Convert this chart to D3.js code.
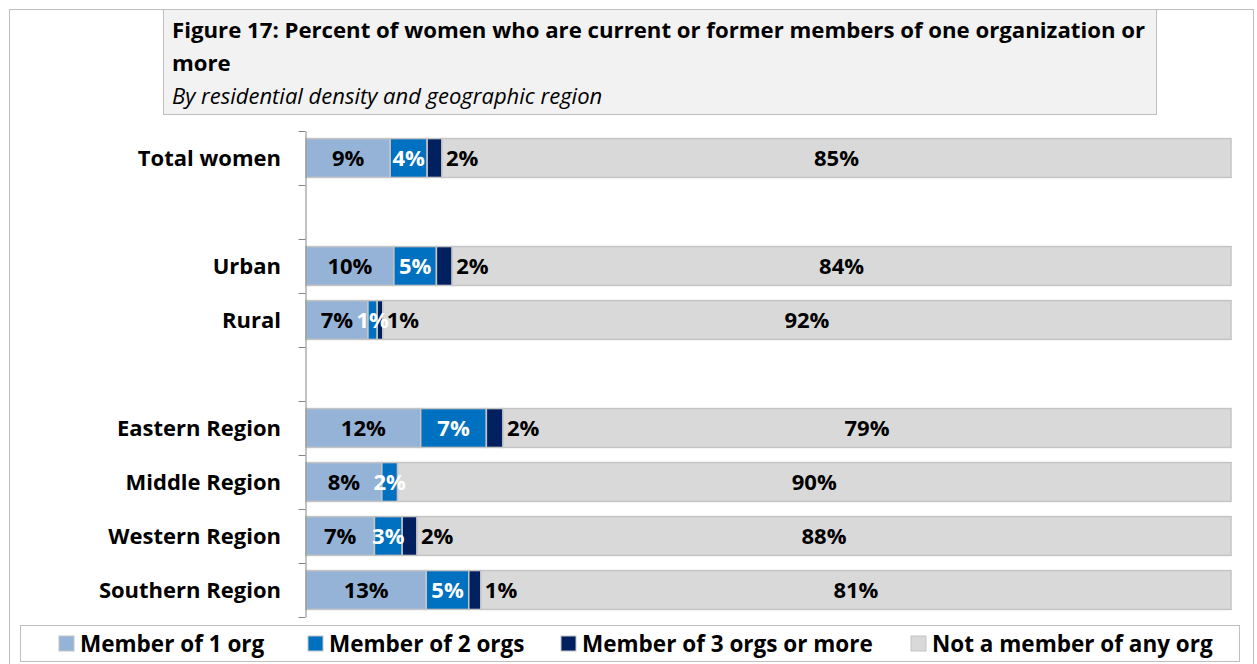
<!DOCTYPE html>
<html>
<head>
<meta charset="utf-8">
<script src="https://cdn.jsdelivr.net/npm/d3@7"></script>
<style>
  html, body { margin: 0; padding: 0; background: #fff; }
  svg { display: block; font-family: "Open Sans", "Noto Sans", sans-serif; }
  .cat-label { font-size: 22px; font-weight: 700; fill: #000; }
  .val-label { font-size: 22px; font-weight: 700; }
  .legend-label { font-size: 22.5px; font-weight: 700; fill: #000; }
  .title { font-size: 22.2px; font-weight: 700; fill: #000; }
  .subtitle { font-size: 22px; font-style: italic; fill: #000; }
</style>
</head>
<body>
<div id="chart"></div>
<script>
const categories = ['Total women', '', 'Urban', 'Rural', ' ', 'Eastern Region', 'Middle Region', 'Western Region', 'Southern Region'];
const seriesNames = ['Member of 1 org', 'Member of 2 orgs', 'Member of 3 orgs or more', 'Not a member of any org'];
const seriesColors = ['#95b3d7', '#0070c0', '#002060', '#d9d9d9'];

// percent values per category (blank rows are spacers)
const member1 = [9.1, null, 9.5, 6.7, null, 12.4, 8.2, 7.4, 13.0];
const member2 = [4.0, null, 4.6, 1.0, null, 7.1, 1.7, 3.0, 4.6];
const member3 = [1.6, null, 1.7, 0.6, null, 1.8, 0, 1.6, 1.3];
const notMember = [85.3, null, 84.2, 91.7, null, 78.7, 90.1, 88.0, 81.1];

const titleLines = ['Figure 17: Percent of women who are current or former members of one organization or', 'more'];
const subtitle = 'By residential density and geographic region';

const W = 1257, H = 664;

const svg = d3.select('#chart').append('svg')
  .attr('width', W)
  .attr('height', H);

// outer frame
svg.append('rect')
  .attr('x', 9.5).attr('y', 9.5)
  .attr('width', 1244).attr('height', 700)
  .attr('fill', '#fff')
  .attr('stroke', '#bfbfbf');

// title box
svg.append('rect')
  .attr('x', 163.5).attr('y', 9.5)
  .attr('width', 993).attr('height', 105)
  .attr('fill', '#f2f2f2')
  .attr('stroke', '#bfbfbf');

titleLines.forEach((t, i) => {
  svg.append('text')
    .attr('class', 'title')
    .attr('x', 172)
    .attr('y', 38 + i * 33)
    .text(t);
});
svg.append('text')
  .attr('class', 'subtitle')
  .attr('x', 172)
  .attr('y', 104)
  .text(subtitle);

const rows = categories.map((c, i) => ({
  cat: c,
  m1: member1[i], m2: member2[i], m3: member3[i], none: notMember[i],
}));
const keys = ['m1', 'm2', 'm3', 'none'];

const y = d3.scaleBand()
  .domain(categories)
  .range([131, 617])
  .paddingInner(0.28)
  .paddingOuter(0.14);

const x = d3.scaleLinear()
  .domain([0, 100])
  .range([306, 1231]);

const stack = d3.stack().keys(keys).value((d, k) => d[k] || 0);
const series = stack(rows.filter(d => d.m1 !== null));

const layers = svg.append('g')
  .selectAll('g')
  .data(series)
  .join('g')
  .attr('fill', (d, i) => seriesColors[i]);

layers.selectAll('rect')
  .data(d => d.filter(p => p[1] - p[0] > 0))
  .join('rect')
  .attr('x', d => x(d[0]))
  .attr('y', d => y(d.data.cat))
  .attr('width', d => x(d[1]) - x(d[0]))
  .attr('height', y.bandwidth())
  .attr('stroke', '#c4c4c4')
  .attr('stroke-width', 1.5);

// value labels
const fmt = v => `${Math.round(v)}%`;
const labelColor = ['#000', '#fff', '#000', '#000'];

series.forEach((s, i) => {
  svg.append('g')
    .selectAll('text')
    .data(s.filter(p => p[1] - p[0] > 0))
    .join('text')
    .attr('class', 'val-label')
    .attr('fill', labelColor[i])
    .attr('x', d => i === 2 ? x(d[1]) + 4 : (x(d[0]) + x(d[1])) / 2)
    .attr('y', d => y(d.data.cat) + y.bandwidth() / 2)
    .attr('dy', '0.36em')
    .attr('text-anchor', i === 2 ? 'start' : 'middle')
    .text(d => fmt(d[1] - d[0]));
});

// category axis
const axis = d3.axisLeft(y).tickSize(0).tickFormat(() => '');
const axisG = svg.append('g')
  .attr('transform', 'translate(305.5,0)')
  .call(axis);
axisG.select('.domain').attr('stroke', '#868686');

const bounds = categories.map(c => y(c) - y.step() * y.paddingInner() / 2);
bounds.push(617);
axisG.selectAll('.bound')
  .data(bounds)
  .join('line')
  .attr('class', 'bound')
  .attr('x1', -7).attr('x2', 0)
  .attr('y1', d => Math.round(d) + 0.5).attr('y2', d => Math.round(d) + 0.5)
  .attr('stroke', '#868686');

svg.append('g')
  .selectAll('text')
  .data(categories.filter(c => c.trim() !== ''))
  .join('text')
  .attr('class', 'cat-label')
  .attr('x', 281)
  .attr('y', d => y(d) + y.bandwidth() / 2)
  .attr('dy', '0.36em')
  .attr('text-anchor', 'end')
  .text(d => d);

// legend
svg.append('rect')
  .attr('x', 20.5).attr('y', 625.5)
  .attr('width', 1219).attr('height', 36)
  .attr('fill', '#fff')
  .attr('stroke', '#bfbfbf');

const legendX = [59, 308, 561, 911];
const legend = svg.append('g')
  .selectAll('g')
  .data(seriesNames)
  .join('g')
  .attr('transform', (d, i) => `translate(${legendX[i]},636)`);

legend.append('rect')
  .attr('width', 15).attr('height', 15)
  .attr('fill', (d, i) => seriesColors[i])
  .attr('stroke', '#c4c4c4');

legend.append('text')
  .attr('class', 'legend-label')
  .attr('x', 21)
  .attr('y', 7.5)
  .attr('dy', '0.36em')
  .text(d => d);
</script>
</body>
</html>
